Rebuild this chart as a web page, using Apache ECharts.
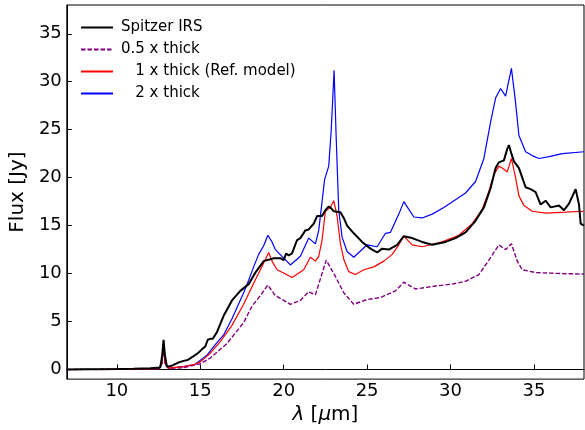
<!DOCTYPE html>
<html>
<head>
<meta charset="utf-8">
<script src="https://cdn.jsdelivr.net/npm/echarts@6/dist/echarts.min.js"></script>
<style>html,body{margin:0;padding:0;background:#fff}#c{width:585px;height:430px}</style>
</head>
<body>
<div id="c"></div>
<script>
const seriesNames = ['Spitzer IRS', '0.5 x thick', '   1 x thick (Ref. model)', '   2 x thick'];
const xTicks = [10, 15, 20, 25, 30, 35];
const yTicks = [0, 5, 10, 15, 20, 25, 30, 35];

const spitzer = [[7,0.0],[8,0.02],[9,0.03],[10,0.05],[11,0.08],[12,0.12],[12.6,0.2],[12.72,1.5],[12.8,3.1],[12.88,1.5],[13.0,0.3],[13.3,0.4],[13.65,0.7],[14.0,0.9],[14.25,1.0],[14.6,1.4],[14.85,1.7],[15.1,2.1],[15.3,2.4],[15.45,3.1],[15.6,3.2],[15.75,3.2],[16.0,3.9],[16.4,5.6],[16.9,7.2],[17.4,8.2],[17.9,8.9],[18.3,10.1],[18.8,11.3],[19.4,11.6],[19.8,11.6],[20.0,11.4],[20.15,12.1],[20.3,11.9],[20.5,12.1],[20.8,13.5],[21.0,13.7],[21.3,14.5],[21.5,14.6],[21.8,15.2],[22.0,16.0],[22.3,16.0],[22.5,16.6],[22.7,17.0],[22.85,16.8],[23.0,16.5],[23.4,16.4],[23.6,15.8],[23.8,15.0],[24.2,14.2],[24.7,13.3],[25.2,12.6],[25.6,12.2],[25.9,12.6],[26.3,12.5],[26.8,13.0],[27.2,13.9],[27.7,13.7],[28.3,13.3],[28.9,13.0],[29.7,13.3],[30.3,13.7],[30.9,14.3],[31.5,15.5],[32.0,16.9],[32.4,18.9],[32.7,21.0],[32.9,21.6],[33.2,21.8],[33.4,23.0],[33.5,23.4],[33.65,22.5],[33.8,21.7],[34.1,21.0],[34.5,19.0],[34.8,18.8],[35.1,18.5],[35.4,17.2],[35.7,17.6],[36.0,16.9],[36.5,17.1],[36.8,16.6],[37.1,17.3],[37.5,18.8],[37.7,17.2],[37.8,15.2],[38.0,15.0]];

const thickHalf = [[7,0.0],[9,0.02],[11,0.04],[12.5,0.08],[12.7,0.5],[12.8,2.5],[12.9,0.5],[13.1,0.1],[14.0,0.2],[15.0,0.6],[15.6,1.2],[16.6,2.7],[17.6,4.9],[18.1,6.6],[18.6,7.7],[19.05,8.8],[19.5,7.7],[20.4,6.8],[21.0,7.2],[21.5,8.1],[21.9,7.8],[22.55,11.4],[23.1,9.7],[23.6,8.0],[24.2,6.8],[25.0,7.3],[25.8,7.5],[26.7,8.2],[27.2,9.1],[27.9,8.4],[29.1,8.7],[30.1,8.9],[30.9,9.2],[31.7,9.9],[32.3,11.4],[32.9,13.0],[33.3,12.5],[33.65,13.1],[34.0,11.3],[34.3,10.4],[35.1,10.1],[36.7,10.0],[38.0,9.95]];

const thickRef = [[7,0.0],[9,0.02],[11,0.05],[12.5,0.1],[12.7,0.6],[12.8,2.7],[12.9,0.6],[13.1,0.15],[14.0,0.3],[14.6,0.5],[15.0,0.8],[15.6,1.7],[16.2,2.9],[16.9,4.6],[17.6,6.8],[18.2,9.0],[18.8,11.1],[19.1,12.2],[19.3,11.3],[19.6,10.4],[20.0,10.06],[20.5,9.6],[21.2,10.4],[21.6,11.7],[21.9,11.3],[22.1,11.8],[22.3,13.5],[22.5,16.5],[22.8,16.9],[23.0,17.6],[23.2,16.0],[23.4,13.1],[23.6,11.5],[23.9,10.2],[24.3,9.9],[24.8,10.4],[25.4,10.7],[26.0,11.3],[26.5,12.0],[26.9,13.0],[27.2,13.9],[27.7,13.0],[28.3,12.8],[29.5,13.3],[30.5,14.0],[31.3,15.2],[31.9,16.7],[32.3,18.6],[32.6,20.3],[32.9,21.2],[33.1,21.0],[33.4,20.6],[33.65,22.0],[33.9,20.0],[34.1,18.1],[34.4,17.1],[34.9,16.5],[35.7,16.3],[36.9,16.4],[38.0,16.5]];

const thickDouble = [[7,0.0],[9,0.02],[11,0.05],[12.5,0.1],[12.7,0.6],[12.8,2.8],[12.9,0.6],[13.1,0.15],[14.0,0.3],[14.65,0.5],[15.4,1.5],[15.9,2.6],[16.4,3.6],[16.9,5.3],[17.6,8.0],[17.9,9.3],[18.2,10.7],[18.5,12.0],[18.8,12.9],[19.05,14.0],[19.3,13.3],[19.5,12.5],[19.9,11.8],[20.4,10.9],[21.0,11.8],[21.5,13.7],[21.9,13.1],[22.1,14.5],[22.3,17.5],[22.45,19.8],[22.7,21.2],[22.85,25.0],[23.02,31.2],[23.15,24.0],[23.3,16.6],[23.5,13.8],[23.8,12.3],[24.2,11.7],[25.0,13.0],[25.6,12.8],[26.1,14.2],[26.4,14.3],[26.9,16.2],[27.2,17.5],[27.8,15.9],[28.3,15.8],[28.9,16.2],[29.6,16.9],[30.9,18.4],[31.5,19.6],[32.0,22.0],[32.4,25.8],[32.7,28.3],[33.0,29.3],[33.3,28.5],[33.65,31.4],[33.9,27.8],[34.1,24.4],[34.5,22.7],[34.9,22.3],[35.3,22.0],[35.9,22.2],[36.7,22.5],[38.0,22.7]];

const font = 'DejaVu Sans';
const chart = echarts.init(document.getElementById('c'), null, {renderer: 'canvas'});
chart.setOption({
  animation: false,
  backgroundColor: '#fff',
  textStyle: {fontFamily: font},
  grid: {left: 62, right: 1, top: 5, bottom: 46, show: true, borderColor: '#000', borderWidth: 1, backgroundColor: 'transparent'},
  legend: {
    orient: 'vertical', left: 75, top: 15,
    itemWidth: 32, itemHeight: 14, itemGap: 7,
    itemStyle: {color: 'rgba(0,0,0,0)', borderWidth: 0, opacity: 0},
    textStyle: {fontSize: 15, color: '#000', fontFamily: font, padding: [0, 0, 0, 3]},
    data: seriesNames
  },
  xAxis: {
    type: 'value', min: 7, max: 38,
    name: '{i|λ} [{i|μ}m]', nameLocation: 'middle', nameGap: 22,
    nameTextStyle: {fontSize: 20, color: '#000', fontFamily: font, rich: {i: {fontStyle: 'italic', fontSize: 20, fontFamily: font, color: '#000'}}},
    axisLine: {show: true, lineStyle: {color: '#000', width: 1}},
    axisTick: {show: true, inside: true, length: 5, lineStyle: {color: '#000'}, customValues: xTicks},
    axisLabel: {fontSize: 18, color: '#000', fontFamily: font, margin: 3, customValues: xTicks},
    splitLine: {show: false}
  },
  yAxis: {
    type: 'value', min: -1, max: 38,
    name: 'Flux [Jy]', nameLocation: 'middle', nameGap: 34,
    nameTextStyle: {fontSize: 20, color: '#000', fontFamily: font},
    axisLine: {show: true, lineStyle: {color: '#000', width: 1}},
    axisTick: {show: true, inside: true, length: 5, lineStyle: {color: '#000'}, customValues: yTicks},
    axisLabel: {fontSize: 18, color: '#000', fontFamily: font, margin: 5, customValues: yTicks},
    splitLine: {show: false}
  },
  series: [
    {name: seriesNames[0], type: 'line', data: spitzer, symbol: 'none', z: 4, lineStyle: {color: '#000', width: 2}, itemStyle: {color: '#000'}},
    {name: seriesNames[1], type: 'line', data: thickHalf, symbol: 'none', z: 3, lineStyle: {color: '#800080', width: 1.4, type: [4.5, 2]}, itemStyle: {color: '#800080'}},
    {name: seriesNames[2], type: 'line', data: thickRef, symbol: 'none', z: 3, lineStyle: {color: '#ff0000', width: 1.2}, itemStyle: {color: '#ff0000'}},
    {name: seriesNames[3], type: 'line', data: thickDouble, symbol: 'none', z: 2, lineStyle: {color: '#0000ff', width: 1.2}, itemStyle: {color: '#0000ff'}}
  ]
});
</script>
</body>
</html>
